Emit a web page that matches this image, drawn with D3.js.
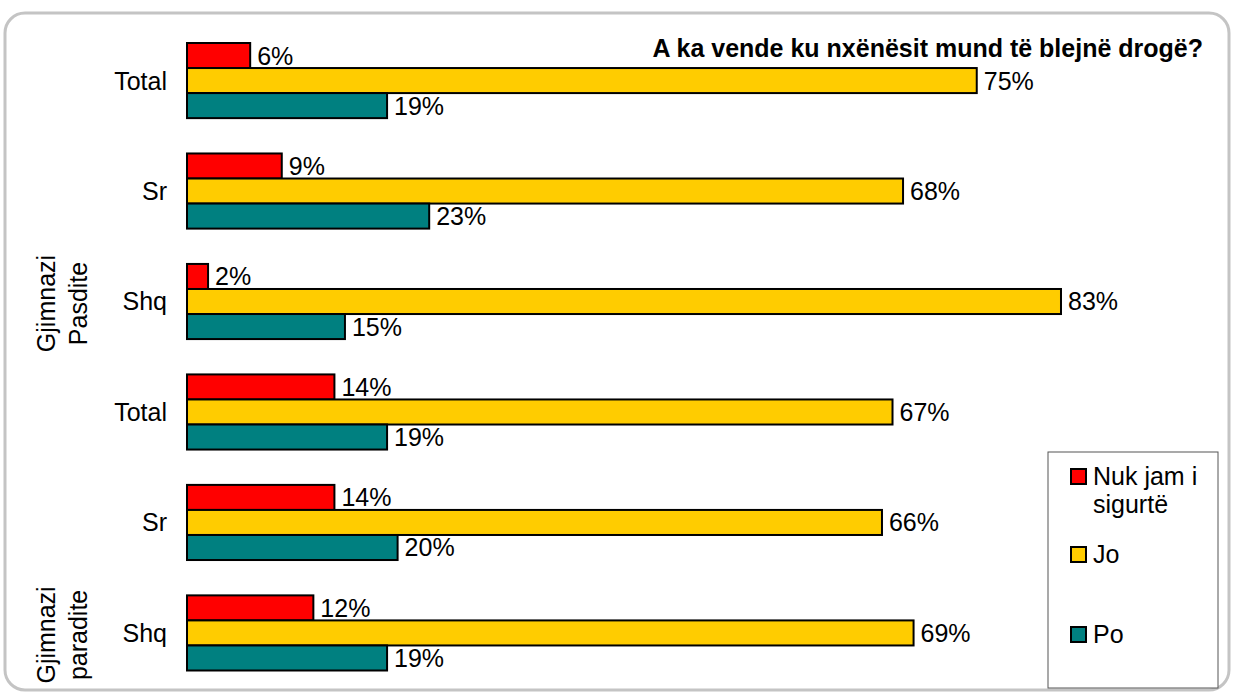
<!DOCTYPE html>
<html>
<head>
<meta charset="utf-8">
<script src="https://cdn.jsdelivr.net/npm/d3@7"></script>
<style>
  body { margin: 0; background: #fff; }
  svg text { font-family: Arial, "Liberation Sans", sans-serif; fill: #000; }
</style>
</head>
<body>
<div id="chart"></div>
<script>
// data (top row first)
const categories = ["Total", "Sr", "Shq", "Total", "Sr", "Shq"];
const nukJam = [6, 9, 2, 14, 14, 12];
const jo = [75, 68, 83, 67, 66, 69];
const po = [19, 23, 15, 19, 20, 19];
const seriesNames = ["Nuk jam i sigurtë", "Jo", "Po"];
const seriesColours = ["#FF0000", "#FFCC00", "#008080"];
const groupLabels = [["Gjimnazi", "Pasdite"], ["Gjimnazi", "paradite"]];
const groupRows = [2, 5];
const chartTitle = "A ka vende ku nxënësit mund të blejnë drogë?";

const width = 1233, height = 695;
const fontSize = "25px";
const seriesValues = [nukJam, jo, po];

const svg = d3.select("#chart").append("svg")
    .attr("width", width)
    .attr("height", height);

// frame
svg.append("rect")
    .attr("x", 5).attr("y", 13)
    .attr("width", 1224).attr("height", 677)
    .attr("rx", 20).attr("ry", 20)
    .attr("fill", "#fff")
    .attr("stroke", "#c4c4c4")
    .attr("stroke-width", 3);

// scales
const rows = categories.map((c, i) => i);
const y = d3.scaleBand()
    .domain(rows)
    .range([43, 670.5])
    .paddingInner(0.32)
    .paddingOuter(0);
const ySeries = d3.scaleBand()
    .domain(d3.range(seriesNames.length))
    .range([0, y.bandwidth()]);
const x = d3.scaleLinear()
    .domain([0, 100])
    .range([187, 1240]);

// bars
const rowG = svg.selectAll("g.row")
    .data(rows).enter()
    .append("g")
    .attr("class", "row")
    .attr("transform", (d) => "translate(0," + y(d) + ")");

seriesValues.forEach((vals, s) => {
    rowG.append("rect")
        .attr("x", x(0))
        .attr("y", ySeries(s))
        .attr("width", (d) => x(vals[d]) - x(0))
        .attr("height", ySeries.bandwidth())
        .attr("fill", seriesColours[s])
        .attr("stroke", "#000")
        .attr("stroke-width", 2);
    rowG.append("text")
        .attr("x", (d) => x(vals[d]) + 7)
        .attr("y", ySeries(s) + ySeries.bandwidth() / 2)
        .attr("dy", "0.36em")
        .style("font-size", fontSize)
        .text((d) => vals[d] + "%");
});

// category labels
rowG.append("text")
    .attr("x", 167)
    .attr("y", y.bandwidth() / 2)
    .attr("dy", "0.36em")
    .attr("text-anchor", "end")
    .style("font-size", fontSize)
    .text((d) => categories[d]);

// group labels
groupLabels.forEach((lines, i) => {
    const cy = y(groupRows[i]) + y.bandwidth() / 2 + 2;
    const t = svg.append("text")
        .attr("transform", "translate(55," + cy + ") rotate(-90)")
        .attr("text-anchor", "middle")
        .style("font-size", fontSize);
    lines.forEach((l, j) => {
        t.append("tspan")
            .attr("x", 0)
            .attr("y", j * 32)
            .text(l);
    });
});

// title
svg.append("text")
    .attr("x", 1203)
    .attr("y", 57)
    .attr("text-anchor", "end")
    .style("font-size", fontSize)
    .style("font-weight", "bold")
    .text(chartTitle);

// legend
const legend = svg.append("g");
legend.append("rect")
    .attr("x", 1048).attr("y", 452)
    .attr("width", 170).attr("height", 236)
    .attr("fill", "#fff")
    .attr("stroke", "#555")
    .attr("stroke-width", 1);
const legendY = [469, 547, 627];
const legendLines = [["Nuk jam i", "sigurtë"], ["Jo"], ["Po"]];
seriesNames.forEach((n, i) => {
    legend.append("rect")
        .attr("x", 1071).attr("y", legendY[i])
        .attr("width", 15).attr("height", 15)
        .attr("fill", seriesColours[i])
        .attr("stroke", "#000")
        .attr("stroke-width", 2);
    const t = legend.append("text")
        .style("font-size", fontSize);
    legendLines[i].forEach((l, j) => {
        t.append("tspan")
            .attr("x", 1093)
            .attr("y", legendY[i] + 16 + j * 28)
            .text(l);
    });
});
</script>
</body>
</html>
